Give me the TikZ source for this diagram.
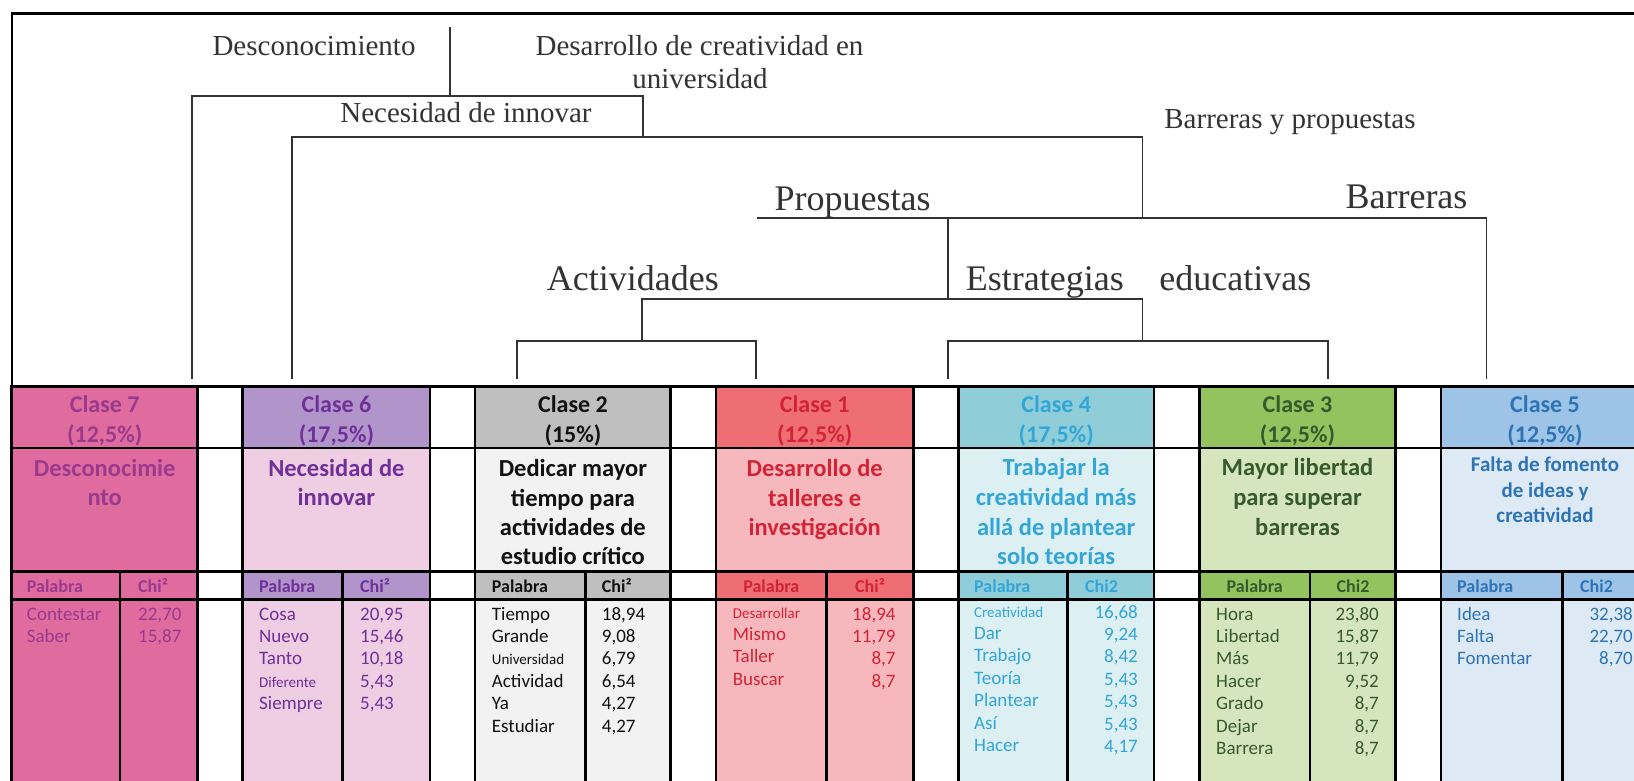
\documentclass[tikz,border=0pt]{standalone}
\usepackage{fontspec}
\setmainfont{Liberation Serif}
\newfontfamily\carl{Carlito}
\newcommand\smw{\fontsize{15}{17}\selectfont}
\definecolor{c7h}{HTML}{E06B9F}\definecolor{c7b}{HTML}{E06B9F}\definecolor{c7t}{HTML}{9A3A8C}
\definecolor{c6h}{HTML}{B195CA}\definecolor{c6b}{HTML}{EFCDE3}\definecolor{c6t}{HTML}{6F3198}
\definecolor{c2h}{HTML}{BFBFBF}\definecolor{c2b}{HTML}{F2F2F2}\definecolor{c2t}{HTML}{111111}
\definecolor{c1h}{HTML}{EE6E73}\definecolor{c1b}{HTML}{F6B8BD}\definecolor{c1t}{HTML}{D22436}
\definecolor{c4h}{HTML}{8FCDD9}\definecolor{c4b}{HTML}{DCEFF3}\definecolor{c4t}{HTML}{33A6D8}
\definecolor{c3h}{HTML}{92C35F}\definecolor{c3b}{HTML}{D6E6BC}\definecolor{c3t}{HTML}{365A2C}
\definecolor{c5h}{HTML}{9DC3E6}\definecolor{c5b}{HTML}{DDEAF6}\definecolor{c5t}{HTML}{2E74B5}
\definecolor{dgray}{HTML}{333333}
\tikzset{
  dline/.style={draw=dgray, line width=1.6pt},
  tline/.style={draw=black, line width=2.8pt},
  frline/.style={draw=black, line width=2.4pt},
  dlab/.style={font=\fontsize{29}{32}\selectfont, text=dgray, inner sep=0pt, anchor=base},
  dlabB/.style={font=\fontsize{36}{40}\selectfont, text=dgray, inner sep=0pt, anchor=base},
  hd/.style={font=\carl\bfseries\fontsize{24}{28}\selectfont, inner sep=0pt, anchor=base},
  ttl/.style={font=\carl\bfseries\fontsize{24.5}{28}\selectfont, inner sep=0pt, anchor=base},
  ttls/.style={font=\carl\bfseries\fontsize{21}{24}\selectfont, inner sep=0pt, anchor=base},
  pw/.style={font=\carl\bfseries\fontsize{18}{20}\selectfont, inner sep=0pt},
  dw/.style={font=\carl\fontsize{19}{22}\selectfont, inner sep=0pt, anchor=base west},
  dnr/.style={font=\carl\fontsize{19}{22}\selectfont, inner sep=0pt, anchor=base east},
}
\newcommand\colbox[5]{%
  \fill[#4] (#1,385) rectangle (#3,448);
  \fill[#5] (#1,448) rectangle (#3,571.7);
  \fill[#4] (#1,571.7) rectangle (#3,599.3);
  \fill[#5] (#1,599.3) rectangle (#3,790);
  \draw[tline] (#1,385) -- (#1,790) (#3,385) -- (#3,790) (#2,571.7) -- (#2,790);
}
\begin{document}
\begin{tikzpicture}[x=1pt,y=-1pt]
\useasboundingbox (0,0) rectangle (1634,780);
\clip (0,0) rectangle (1634,780);
\fill[white] (0,0) rectangle (1634,780);

% frame
\coordinate (fr0) at (11.7,385);
\coordinate (fr1) at (11.7,13.3);
\coordinate (fr2) at (1640,13.3);
\draw[frline] (fr0) -- (fr1) -- (fr2);

% dendrogram coordinates
\coordinate (n0) at (450,27);   \coordinate (n0b) at (450,96);
\coordinate (a) at (191.7,96);  \coordinate (ab) at (191.7,379);
\coordinate (b) at (643,96);    \coordinate (bb) at (643,137);
\coordinate (c) at (291.7,137); \coordinate (cb) at (291.7,379);
\coordinate (d) at (1142.6,137);\coordinate (db) at (1142.6,218);
\coordinate (e) at (757,218);   \coordinate (f) at (1486.6,218);
\coordinate (fb) at (1486.6,379);
\coordinate (g) at (948,218);   \coordinate (gb) at (948,299);
\coordinate (h) at (642,299);   \coordinate (hb) at (642,341);
\coordinate (i) at (1142.6,299);\coordinate (ib) at (1142.6,341);
\coordinate (j) at (517,341);   \coordinate (jb) at (517,379);
\coordinate (k) at (756,341);   \coordinate (kb) at (756,379);
\coordinate (l) at (948,341);   \coordinate (lb) at (948,379);
\coordinate (m) at (1328,341);  \coordinate (mb) at (1328,379);

\draw[dline] (n0) -- (n0b);
\draw[dline] (ab) -- (a) -- (b) -- (bb);
\draw[dline] (cb) -- (c) -- (d) -- (db);
\draw[dline] (e) -- (f) -- (fb);
\draw[dline] (g) -- (gb);
\draw[dline] (hb) -- (h) -- (i) -- (ib);
\draw[dline] (jb) -- (j) -- (k) -- (kb);
\draw[dline] (lb) -- (l) -- (m) -- (mb);

% dendrogram labels
\node[dlab] (lDesc) at (314,55) {Desconocimiento};
\node[dlab] (lDes1) at (699.5,55) {Desarrollo de creatividad en};
\node[dlab] (lDes2) at (700,88) {universidad};
\node[dlab] (lNec) at (466,122) {Necesidad de innovar};
\node[dlab] (lByP) at (1290,128) {Barreras y propuestas};
\node[dlabB] (lProp) at (852.6,210) {Propuestas};
\node[dlabB] (lBarr) at (1406.5,208) {Barreras};
\node[dlabB] (lAct) at (632.8,290) {Actividades};
\node[dlabB] (lEst) at (1044.8,290) {Estrategias};
\node[dlabB] (lEdu) at (1235.3,290) {educativas};

% table boxes
\colbox{11.7}{120}{197.7}{c7h}{c7b}
\colbox{242.7}{342.7}{430}{c6h}{c6b}
\colbox{475}{585.7}{670.7}{c2h}{c2b}
\colbox{716}{826.7}{913.3}{c1h}{c1b}
\colbox{958.3}{1067.3}{1154}{c4h}{c4b}
\colbox{1199.3}{1310}{1395.7}{c3h}{c3b}
\colbox{1441}{1562.3}{1649}{c5h}{c5b}
\draw[tline] (11.7,386.5) -- (1640,386.5);
\draw[tline] (11.7,448) -- (1640,448);
\draw[tline] (11.7,571.7) -- (1640,571.7);
\draw[tline] (11.7,599.3) -- (1640,599.3);

% ---------- Clase 7
\node[hd,text=c7t] (c7h1) at (104.7,412) {Clase 7};
\node[hd,text=c7t] (c7h2) at (104.7,442) {(12,5\%)};
\foreach \t [count=\q] in {Desconocimie,nto}
  \node[ttl,text=c7t] (c7ti\q) at (104.7,{476.7+28.8*(\q-1)}) {\t};
\node[pw,text=c7t,anchor=base west] (c7p) at (26.7,592.3) {Palabra};
\node[pw,text=c7t,anchor=base west] (c7c) at (138,592.3) {Chi²};
\foreach \w/\n [count=\q] in {Contestar/{22,70},Saber/{15,87}} {
  \node[dw,text=c7t] (c7w\q) at (26.7,{620+22.4*(\q-1)}) {\w};
  \node[dw,text=c7t] (c7n\q) at (138,{620+22.4*(\q-1)}) {\n};
}

% ---------- Clase 6
\node[hd,text=c6t] (c6h1) at (336.4,412) {Clase 6};
\node[hd,text=c6t] (c6h2) at (336.4,442) {(17,5\%)};
\foreach \t [count=\q] in {Necesidad de,innovar}
  \node[ttl,text=c6t] (c6ti\q) at (336.4,{476.7+28.8*(\q-1)}) {\t};
\node[pw,text=c6t,anchor=base west] (c6p) at (259,592.3) {Palabra};
\node[pw,text=c6t,anchor=base west] (c6c) at (360,592.3) {Chi²};
\foreach \w/\n [count=\q] in {Cosa/{20,95},Nuevo/{15,46},Tanto/{10,18},\smw Diferente/{5,43},Siempre/{5,43}} {
  \node[dw,text=c6t] (c6w\q) at (259,{620+22.4*(\q-1)}) {\w};
  \node[dw,text=c6t] (c6n\q) at (360,{620+22.4*(\q-1)}) {\n};
}

% ---------- Clase 2
\node[hd,text=c2t] (c2h1) at (572.9,412) {Clase 2};
\node[hd,text=c2t] (c2h2) at (572.9,442) {(15\%)};
\foreach \t [count=\q] in {Dedicar mayor,tiempo para,actividades de,estudio crítico}
  \node[ttl,text=c2t] (c2ti\q) at (572.9,{476.7+29.3*(\q-1)}) {\t};
\node[pw,text=c2t,anchor=base west] (c2p) at (491.7,592.3) {Palabra};
\node[pw,text=c2t,anchor=base west] (c2c) at (601.7,592.3) {Chi²};
\foreach \w/\n [count=\q] in {Tiempo/{18,94},Grande/{9,08},\smw Universidad/{6,79},Actividad/{6,54},Ya/{4,27},Estudiar/{4,27}} {
  \node[dw,text=c2t] (c2w\q) at (491.7,{620+22.4*(\q-1)}) {\w};
  \node[dw,text=c2t] (c2n\q) at (601.7,{620+22.4*(\q-1)}) {\n};
}

% ---------- Clase 1
\node[hd,text=c1t] (c1h1) at (814.7,412) {Clase 1};
\node[hd,text=c1t] (c1h2) at (814.7,442) {(12,5\%)};
\foreach \t [count=\q] in {Desarrollo de,talleres e,investigación}
  \node[ttl,text=c1t] (c1ti\q) at (814.7,{476.7+29.3*(\q-1)}) {\t};
\node[pw,text=c1t,anchor=base] (c1p) at (771.3,592.3) {Palabra};
\node[pw,text=c1t,anchor=base] (c1c) at (870,592.3) {Chi²};
\foreach \w/\n [count=\q] in {\smw Desarrollar/{18,94},Mismo/{11,79},Taller/{8,7},Buscar/{8,7}} {
  \node[dw,text=c1t] (c1w\q) at (732.7,{618+22.4*(\q-1)}) {\w};
  \node[dnr,text=c1t] (c1n\q) at (895.7,{620+22.4*(\q-1)}) {\n};
}

% ---------- Clase 4
\node[hd,text=c4t] (c4h1) at (1056.2,412) {Clase 4};
\node[hd,text=c4t] (c4h2) at (1056.2,442) {(17,5\%)};
\foreach \t [count=\q] in {Trabajar la,creatividad más,allá de plantear,solo teorías}
  \node[ttl,text=c4t] (c4ti\q) at (1056.2,{475.5+29.8*(\q-1)}) {\t};
\node[pw,text=c4t,anchor=base west] (c4p) at (974,592.3) {Palabra};
\node[pw,text=c4t,anchor=base west] (c4c) at (1085,592.3) {Chi2};
\foreach \w/\n [count=\q] in {\smw Creatividad/{16,68},Dar/{9,24},Trabajo/{8,42},Teoría/{5,43},Plantear/{5,43},Así/{5,43},Hacer/{4,17}} {
  \node[dw,text=c4t] (c4w\q) at (974,{617+22.4*(\q-1)}) {\w};
  \node[dnr,text=c4t] (c4n\q) at (1138,{618+22.4*(\q-1)}) {\n};
}

% ---------- Clase 3
\node[hd,text=c3t] (c3h1) at (1297.5,412) {Clase 3};
\node[hd,text=c3t] (c3h2) at (1297.5,442) {(12,5\%)};
\foreach \t [count=\q] in {Mayor libertad,para superar,barreras}
  \node[ttl,text=c3t] (c3ti\q) at (1297.5,{475.5+29.8*(\q-1)}) {\t};
\node[pw,text=c3t,anchor=base] (c3p) at (1254.7,592.3) {Palabra};
\node[pw,text=c3t,anchor=base] (c3c) at (1353,592.3) {Chi2};
\foreach \w/\n [count=\q] in {Hora/{23,80},Libertad/{15,87},Más/{11,79},Hacer/{9,52},Grado/{8,7},Dejar/{8,7},Barrera/{8,7}} {
  \node[dw,text=c3t] (c3w\q) at (1216,{620+22.4*(\q-1)}) {\w};
  \node[dnr,text=c3t] (c3n\q) at (1379,{620+22.4*(\q-1)}) {\n};
}

% ---------- Clase 5
\node[hd,text=c5t] (c5h1) at (1545,412) {Clase 5};
\node[hd,text=c5t] (c5h2) at (1545,442) {(12,5\%)};
\foreach \t [count=\q] in {Falta de fomento,de ideas y,creatividad}
  \node[ttls,text=c5t] (c5ti\q) at (1545,{471.7+25.6*(\q-1)}) {\t};
\node[pw,text=c5t,anchor=base west] (c5p) at (1457,592.3) {Palabra};
\node[pw,text=c5t,anchor=base west] (c5c) at (1580,592.3) {Chi2};
\foreach \w/\n [count=\q] in {Idea/{32,38},Falta/{22,70},Fomentar/{8,70}} {
  \node[dw,text=c5t] (c5w\q) at (1457,{620+22.4*(\q-1)}) {\w};
  \node[dnr,text=c5t] (c5n\q) at (1633,{620+22.4*(\q-1)}) {\n};
}
\end{tikzpicture}
\end{document}
